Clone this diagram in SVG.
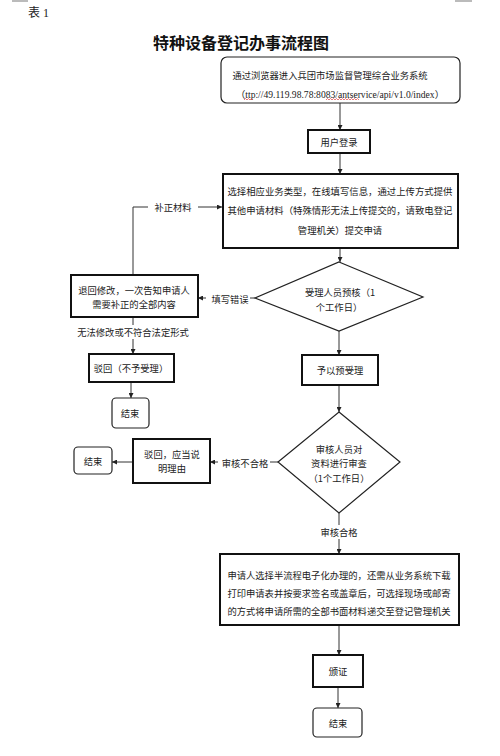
<svg xmlns="http://www.w3.org/2000/svg" width="500" height="756" viewBox="0 0 500 756">
<defs>
<marker id="ah" viewBox="0 0 10 10" refX="10" refY="5" markerWidth="5" markerHeight="5" orient="auto" markerUnits="userSpaceOnUse">
<path d="M0,0 L10,5 L0,10 z" fill="#222"/>
</marker>
</defs>
<style>
.t{font-family:"Noto Sans CJK SC","Liberation Sans",sans-serif;font-size:9.3px;fill:#222;text-anchor:middle;dominant-baseline:central}
.thin{fill:#fff;stroke:#222;stroke-width:1.2}
.thick{fill:#fff;stroke:#111;stroke-width:2}
.c{fill:none;stroke:#333;stroke-width:1;marker-end:url(#ah)}
.lb{fill:#fff}
</style>
<rect width="500" height="756" fill="#fff"/>
<path d="M12,1 H28 M455,1 H472" stroke="#bbb" stroke-width="2"/>
<text x="28" y="17" style="font-family:'Liberation Serif','Noto Sans CJK SC',serif;font-size:12px;fill:#222">表 1</text>
<text x="241" y="42" style="font-family:'Noto Sans CJK SC',sans-serif;font-size:16px;font-weight:bold;fill:#111;text-anchor:middle;dominant-baseline:central">特种设备登记办事流程图</text>

<g id="connectors">
<line class="c" x1="340" y1="103" x2="340" y2="130"/>
<line class="c" x1="340" y1="153" x2="340" y2="174"/>
<line class="c" x1="340" y1="248" x2="340" y2="262"/>
<line class="c" x1="339" y1="331" x2="339" y2="355"/>
<line class="c" x1="339" y1="385" x2="339" y2="412"/>
<line class="c" x1="339" y1="513" x2="339" y2="554"/>
<line class="c" x1="339" y1="625" x2="339" y2="655"/>
<line class="c" x1="338" y1="687" x2="338" y2="708"/>
<polyline class="c" points="133,275 133,207 222,207"/>
<line class="c" x1="255" y1="298" x2="198" y2="298"/>
<line class="c" x1="133" y1="317" x2="133" y2="354"/>
<line class="c" x1="131" y1="382" x2="131" y2="398"/>
<line class="c" x1="278" y1="462" x2="210" y2="462"/>
<line class="c" x1="133" y1="462" x2="112" y2="462"/>
<rect class="lb" x="148" y="200" width="50" height="14"/>
<text class="t" x="173" y="207">补正材料</text>
<rect class="lb" x="206" y="291" width="44" height="14"/>
<text class="t" x="230" y="299">填写错误</text>
<rect class="lb" x="76" y="325" width="116" height="14"/>
<text class="t" x="133" y="332">无法修改或不符合法定形式</text>
<rect class="lb" x="218" y="455" width="52" height="14"/>
<text class="t" x="245" y="463">审核不合格</text>
<rect class="lb" x="316" y="525" width="46" height="14"/>
<text class="t" x="339" y="532">审核合格</text>
</g>

<g id="n1">
<rect class="thin" x="221" y="57" width="239" height="46" rx="6"/>
<text class="t" x="330" y="75">通过浏览器进入兵团市场监督管理综合业务系统</text>
<text class="t" x="340" y="94" style="font-family:'Liberation Serif','Noto Sans CJK SC',serif;font-size:9.6px">（ttp://49.119.98.78:8083/antservice/api/v1.0/index）</text>
<path d="M244,100 l1.5,-1.5 l1.5,1.5 l1.5,-1.5 l1.5,1.5 l1.5,-1.5 l1.5,1.5 M326,100 l1.5,-1.5 l1.5,1.5 l1.5,-1.5 l1.5,1.5 l1.5,-1.5 l1.5,1.5 l1.5,-1.5 l1.5,1.5 l1.5,-1.5 l1.5,1.5 l1.5,-1.5 l1.5,1.5 l1.5,-1.5 l1.5,1.5 l1.5,-1.5 l1.5,1.5 l1.5,-1.5 l1.5,1.5 l1.5,-1.5 l1.5,1.5 l1.5,-1.5 l1.5,1.5" fill="none" stroke="#d44" stroke-width="0.7"/>
</g>
<g id="n2">
<rect class="thick" x="308" y="130" width="62" height="23"/>
<text class="t" x="339" y="142">用户登录</text>
</g>
<g id="n3">
<rect class="thick" x="223" y="174" width="235" height="74"/>
<text class="t" x="340" y="191" style="font-size:9.4px">选择相应业务类型，在线填写信息，通过上传方式提供</text>
<text class="t" x="340" y="210" style="font-size:9.4px">其他申请材料（特殊情形无法上传提交的，请致电登记</text>
<text class="t" x="340" y="230" style="font-size:9.4px">管理机关）提交申请</text>
</g>
<g id="n4">
<polygon class="thin" points="339,262 423,297 339,331 255,298"/>
<text class="t" x="340" y="292">受理人员预核（1</text>
<text class="t" x="339" y="307">个工作日）</text>
</g>
<g id="n5">
<rect class="thick" x="71" y="275" width="127" height="42"/>
<text class="t" x="134" y="290">退回修改，一次告知申请人</text>
<text class="t" x="134" y="304">需要补正的全部内容</text>
</g>
<g id="n6">
<rect class="thick" x="89" y="354" width="85" height="28"/>
<text class="t" x="131" y="368">驳回（不予受理）</text>
</g>
<g id="n7">
<rect class="thin" x="112" y="398" width="37" height="30" rx="4"/>
<text class="t" x="130" y="413">结束</text>
</g>
<g id="n8">
<rect class="thick" x="302" y="355" width="76" height="30"/>
<text class="t" x="340" y="370">予以预受理</text>
</g>
<g id="n9">
<polygon class="thin" points="339,412 400,462 339,513 278,462"/>
<text class="t" x="339" y="449">审核人员对</text>
<text class="t" x="339" y="463">资料进行审查</text>
<text class="t" x="339" y="478">（1个工作日）</text>
</g>
<g id="n10">
<rect class="thick" x="133" y="439" width="77" height="44"/>
<text class="t" x="172" y="454">驳回，应当说</text>
<text class="t" x="172" y="468">明理由</text>
</g>
<g id="n11">
<rect class="thin" x="74" y="447" width="38" height="27" rx="4"/>
<text class="t" x="93" y="461">结束</text>
</g>
<g id="n12">
<rect class="thick" x="220" y="554" width="239" height="71"/>
<text class="t" x="339" y="575">申请人选择半流程电子化办理的，还需从业务系统下载</text>
<text class="t" x="339" y="593">打印申请表并按要求签名或盖章后，可选择现场或邮寄</text>
<text class="t" x="339" y="611">的方式将申请所需的全部书面材料递交至登记管理机关</text>
</g>
<g id="n13">
<rect class="thick" x="313" y="655" width="50" height="32"/>
<text class="t" x="338" y="671">颁证</text>
</g>
<g id="n14">
<rect class="thin" x="313" y="708" width="49" height="29" rx="4"/>
<text class="t" x="338" y="723">结束</text>
</g>
</svg>
